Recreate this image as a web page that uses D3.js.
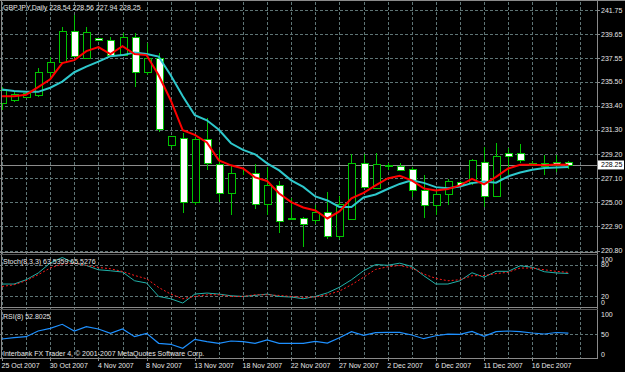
<!DOCTYPE html>
<html>
<head>
<meta charset="utf-8">
<script src="https://cdn.jsdelivr.net/npm/d3@7/dist/d3.min.js"></script>
<style>
  html, body { margin: 0; padding: 0; background: #000; }
  svg { display: block; }
  text { font-family: "Liberation Sans", Arial, sans-serif; font-size: 7px; fill: #e6e6e6; }
</style>
</head>
<body>
<svg></svg>
<script>
//  bar dates (daily, no saturdays)
var dates = ["2007-10-25","2007-10-26","2007-10-28","2007-10-29","2007-10-30","2007-10-31",
  "2007-11-01","2007-11-02","2007-11-04","2007-11-05","2007-11-06","2007-11-07","2007-11-08","2007-11-09",
  "2007-11-11","2007-11-12","2007-11-13","2007-11-14","2007-11-15","2007-11-16",
  "2007-11-18","2007-11-19","2007-11-20","2007-11-21","2007-11-22","2007-11-23",
  "2007-11-25","2007-11-26","2007-11-27","2007-11-28","2007-11-29","2007-11-30",
  "2007-12-02","2007-12-03","2007-12-04","2007-12-05","2007-12-06","2007-12-07",
  "2007-12-09","2007-12-10","2007-12-11","2007-12-12","2007-12-13","2007-12-14",
  "2007-12-16","2007-12-17","2007-12-18","2007-12-19"];

//  GBPJPY daily OHLC
var open  = [233.63,233.95,234.18,234.33,236.36,237.23,239.91,237.53,239.28,239.13,237.82,239.36,236.36,237.53,
  229.96,230.57,225.01,230.49,228.36,225.80,227.54,227.54,224.81,226.53,223.59,223.62,223.50,224.14,222.02,223.56,
  228.45,226.27,228.22,228.13,227.87,226.03,224.72,225.75,226.76,226.76,228.50,225.51,229.32,229.32,228.42,228.42,228.48,228.54];
var high  = [235.02,234.62,234.62,236.66,237.67,240.24,241.31,240.24,239.30,239.36,239.71,239.71,238.87,237.97,
  230.79,231.01,230.69,232.32,229.59,228.13,227.78,228.30,228.07,226.85,225.34,223.76,224.72,225.89,225.51,229.24,
  229.24,229.29,228.39,228.42,228.04,227.34,225.95,226.99,226.82,228.80,229.81,230.16,229.76,230.05,228.57,229.09,229.09,228.56];
var low   = [233.02,233.74,234.13,234.18,235.64,237.09,237.67,237.50,239.08,237.73,237.78,235.05,236.07,231.12,
  229.76,224.05,224.72,227.78,225.01,223.85,227.34,224.44,223.85,222.31,223.46,221.08,223.13,221.82,221.84,223.53,
  226.25,226.25,227.78,227.78,225.42,223.62,223.85,224.72,226.47,226.47,224.58,225.47,227.34,228.39,228.13,227.34,227.63,227.94];
var close = [234.76,234.39,234.53,236.36,237.23,239.91,237.73,239.85,239.10,237.82,239.36,236.36,237.53,231.42,
  230.75,225.01,230.55,228.42,225.80,227.54,227.56,224.81,226.53,223.41,223.55,223.13,224.14,222.02,224.87,228.42,
  226.32,228.36,228.19,227.84,226.03,224.72,225.75,226.82,226.53,228.65,225.51,229.00,229.00,228.71,228.22,228.13,228.22,228.25];

//  moving averages
var maFast = [234.24,234.24,234.37,235.03,235.72,237.12,237.38,238.17,238.52,237.91,238.60,237.91,237.82,236.07,
  233.89,231.27,230.88,230.22,228.65,228.22,227.95,227.17,226.86,225.77,225.01,224.55,224.29,223.59,224.20,225.34,
  225.82,226.47,227.08,227.30,226.91,226.21,226.03,226.16,226.47,227.04,226.56,227.21,227.95,228.26,228.28,228.22,228.30,228.28];
var maSlow = [234.82,234.70,234.62,234.62,234.98,235.51,236.33,236.82,237.25,237.73,237.82,238.04,237.91,237.69,
  236.07,234.24,232.58,232.14,231.32,230.14,229.57,229.18,228.39,227.78,226.91,226.34,225.51,225.16,224.59,224.59,
  225.42,225.68,226.16,226.60,226.91,226.69,226.32,226.23,226.38,226.67,226.82,226.71,227.26,227.60,227.84,227.98,228.02,228.07];

//  Stoch(8,3,3)
var stochMain = [43.5,43.5,51.6,64.3,83.2,93.8,83.2,78.7,70.5,68.6,66.2,49.7,45.4,20,15.6,7.5,24.5,26.4,24.5,21.3,
  20,21.9,24.5,20,18.9,15.6,20,26.8,37.4,51.6,68.6,80.4,79,83,76.8,59.2,43.5,43.5,49.7,64.9,56.3,67.7,67.5,78.1,
  75.3,66.8,64.5,63.54];
var stochSignal = [38.9,42.1,49.7,61.1,73.8,81.3,83.2,78.7,74.9,72.4,67.3,59.7,53.5,37,24.5,15.6,20,23.2,23.2,20,
  20,23.2,23.2,21.9,20,18.1,19,23.2,30.2,42.1,56.3,71.1,76.2,78.7,73.8,62.4,54.1,49.7,51.6,59.2,59.7,63.3,65.8,73.8,
  73.8,70.5,67.5,65.53];

//  RSI(8)
var rsi = [38.3,41.5,44,58.3,65,75,58.3,69,63.3,52.5,63.3,44,52.5,27.5,25,15,37.5,31.5,27.5,33.3,31.5,27.5,35.8,
  27.5,27.5,27.5,32.5,28,41.5,56.5,47.5,54.3,55,55,48.3,39,46.3,50.5,50,57.3,45,56.5,58.3,56.8,53.3,50.8,54.5,52.80];

//  axis labels
var priceTicks = [241.75,239.65,237.55,235.50,233.40,231.30,229.20,227.10,225.00,222.90,220.80];
var stochLevels = [100, 80, 20, 0];
var rsiLevels = [100, 50, 0];
var lastPrice = 228.25;

var width = 625, height = 372;
var svg = d3.select("svg").attr("width", width).attr("height", height);
svg.append("rect").attr("width", width).attr("height", height).attr("fill", "#000");

var parse = d3.timeParse("%Y-%m-%d"),
    fmt = d3.timeFormat("%-d %b %Y");

var bars = dates.map(function(d, i) {
    return {i: i, date: parse(d), o: open[i], h: high[i], l: low[i], c: close[i]};
});

//  scales
var right = 597;
var x = d3.scaleLinear().domain([0, dates.length - 1]).range([2, 568.4]);
var y = d3.scaleLinear().domain([220.80, 241.75]).range([250.5, 10]);
var ys = d3.scaleLinear().domain([0, 100]).range([307, 254.2]);
var yr = d3.scaleLinear().domain([0, 100]).range([354.3, 314.3]);

var gridColor = "#5e7475", frameColor = "#8a8a8a", candleGreen = "#00c400";

//  grid
var grid = svg.append("g").attr("stroke", gridColor).attr("stroke-dasharray", "3,2")
    .attr("shape-rendering", "crispEdges");

grid.selectAll(".vx").data(d3.range(0, dates.length + 1, 2)).join("line")
    .attr("x1", function(d) { return Math.round(x(d)) + 0.5; })
    .attr("x2", function(d) { return Math.round(x(d)) + 0.5; })
    .attr("y1", 2).attr("y2", 358);

grid.selectAll(".hp").data(priceTicks).join("line")
    .attr("x1", 0).attr("x2", right)
    .attr("y1", function(d) { return Math.round(y(d)) + 0.5; })
    .attr("y2", function(d) { return Math.round(y(d)) + 0.5; });

grid.selectAll(".hs").data([80, 20]).join("line")
    .attr("x1", 0).attr("x2", right)
    .attr("y1", function(d) { return Math.round(ys(d)) + 0.5; })
    .attr("y2", function(d) { return Math.round(ys(d)) + 0.5; });

grid.selectAll(".hr").data([50]).join("line")
    .attr("x1", 0).attr("x2", right)
    .attr("y1", function(d) { return Math.round(yr(d)) + 0.5; })
    .attr("y2", function(d) { return Math.round(yr(d)) + 0.5; });

//  current price line
svg.append("line")
    .attr("x1", 0).attr("x2", right)
    .attr("y1", Math.round(y(lastPrice)) + 0.5).attr("y2", Math.round(y(lastPrice)) + 0.5)
    .attr("stroke", "#8c8c8c").attr("shape-rendering", "crispEdges");

//  candles
var clip = svg.append("clipPath").attr("id", "mainclip").append("rect")
    .attr("x", 0).attr("y", 2).attr("width", right).attr("height", 250);

var main = svg.append("g").attr("clip-path", "url(#mainclip)");

var candle = main.append("g").selectAll(".candle").data(bars).join("g")
    .attr("class", "candle")
    .attr("shape-rendering", "crispEdges");

candle.append("line")
    .attr("x1", function(d) { return Math.round(x(d.i)) + 0.5; })
    .attr("x2", function(d) { return Math.round(x(d.i)) + 0.5; })
    .attr("y1", function(d) { return y(d.h); })
    .attr("y2", function(d) { return y(d.l); })
    .attr("stroke", candleGreen);

candle.append("rect")
    .attr("x", function(d) { return Math.round(x(d.i)) - 3 + 0.5 - 0.5; })
    .attr("y", function(d) { return Math.round(y(Math.max(d.o, d.c))) + 0.5; })
    .attr("width", 7)
    .attr("height", function(d) { return Math.max(0, Math.round(y(Math.min(d.o, d.c))) - Math.round(y(Math.max(d.o, d.c)))); })
    .attr("fill", function(d) { return d.c < d.o ? "#ffffff" : "#000000"; })
    .attr("stroke", candleGreen);

//  moving averages
var line = function(scale, values) {
    return d3.line()
        .x(function(d, i) { return x(i); })
        .y(function(d) { return scale(d); })(values);
};

main.append("path").attr("d", line(y, maSlow))
    .attr("fill", "none").attr("stroke", "#2ec8cc").attr("stroke-width", 2);
main.append("path").attr("d", line(y, maFast))
    .attr("fill", "none").attr("stroke", "#ff0000").attr("stroke-width", 2);

//  stochastic
svg.append("path").attr("d", line(ys, stochMain))
    .attr("fill", "none").attr("stroke", "#20b2aa").attr("stroke-width", 1);
svg.append("path").attr("d", line(ys, stochSignal))
    .attr("fill", "none").attr("stroke", "#ff1a1a").attr("stroke-width", 1).attr("stroke-dasharray", "2,2");

//  rsi
svg.append("path").attr("d", line(yr, rsi))
    .attr("fill", "none").attr("stroke", "#1e90ff").attr("stroke-width", 1.2);

//  frame / separators
var frame = svg.append("g").attr("stroke", frameColor).attr("shape-rendering", "crispEdges");
frame.append("line").attr("x1", 0).attr("x2", width).attr("y1", 0.5).attr("y2", 0.5);
frame.append("line").attr("x1", 1.5).attr("x2", 1.5).attr("y1", 0).attr("y2", 358);
frame.append("line").attr("x1", right + 0.5).attr("x2", right + 0.5).attr("y1", 0).attr("y2", 359);
[252.5, 254.5, 307.5, 309.5, 358.5].forEach(function(yy, k) {
    frame.append("line").attr("x1", 0).attr("x2", right + 1).attr("y1", yy).attr("y2", yy)
        .attr("stroke", k % 2 === 1 && k < 4 ? "#555" : frameColor);
});

//  price axis
var axis = svg.append("g");
axis.selectAll(".pt").data(priceTicks).join("line")
    .attr("x1", right).attr("x2", right + 3)
    .attr("y1", function(d) { return Math.round(y(d)) + 0.5; })
    .attr("y2", function(d) { return Math.round(y(d)) + 0.5; })
    .attr("stroke", frameColor);
axis.selectAll(".pl").data(priceTicks).join("text")
    .attr("x", 601).attr("y", function(d) { return y(d) + 2.5; })
    .text(function(d) { return d3.format(".2f")(d); });

//  last price label
axis.append("rect").attr("x", 598).attr("y", y(lastPrice) - 4.5).attr("width", 26).attr("height", 9)
    .attr("fill", "#ffffff");
axis.append("text").attr("x", 601).attr("y", y(lastPrice) + 2.5)
    .style("fill", "#000").text(d3.format(".2f")(lastPrice));

//  stoch levels
axis.selectAll(".sl").data(stochLevels).join("text")
    .attr("x", 601)
    .attr("y", function(d) { return Math.max(259, Math.min(302.3, ys(d))) + 2.5; })
    .text(function(d) { return d; });

//  rsi levels
axis.selectAll(".rl").data(rsiLevels).join("text")
    .attr("x", 601)
    .attr("y", function(d) { return yr(d) + 2.5; })
    .text(function(d) { return d; });

//  date axis
var dateIdx = d3.range(0, dates.length, 4);
axis.selectAll(".dt").data(dateIdx).join("line")
    .attr("x1", function(d) { return Math.round(x(d)) + 0.5; })
    .attr("x2", function(d) { return Math.round(x(d)) + 0.5; })
    .attr("y1", 358).attr("y2", 361)
    .attr("stroke", frameColor);
axis.selectAll(".dl").data(dateIdx).join("text")
    .attr("x", function(d) { return x(d) - 0.5; })
    .attr("y", 367.5)
    .text(function(d) { return fmt(bars[d].date); });

//  labels
svg.append("text").attr("x", 3).attr("y", 9.5)
    .text("GBPJPY,Daily  " + [open, high, low, close].map(function(a) { return a[a.length - 1].toFixed(2); }).join(" "));
svg.append("text").attr("x", 3).attr("y", 263.5)
    .text("Stoch(8,3,3) 63.5359 65.5276");
svg.append("text").attr("x", 3).attr("y", 319)
    .text("RSI(8) 52.8025");
svg.append("text").attr("x", 3).attr("y", 355.5)
    .text("Interbank FX Trader 4, \u00a9 2001-2007 MetaQuotes Software Corp.");
</script>
</body>
</html>
